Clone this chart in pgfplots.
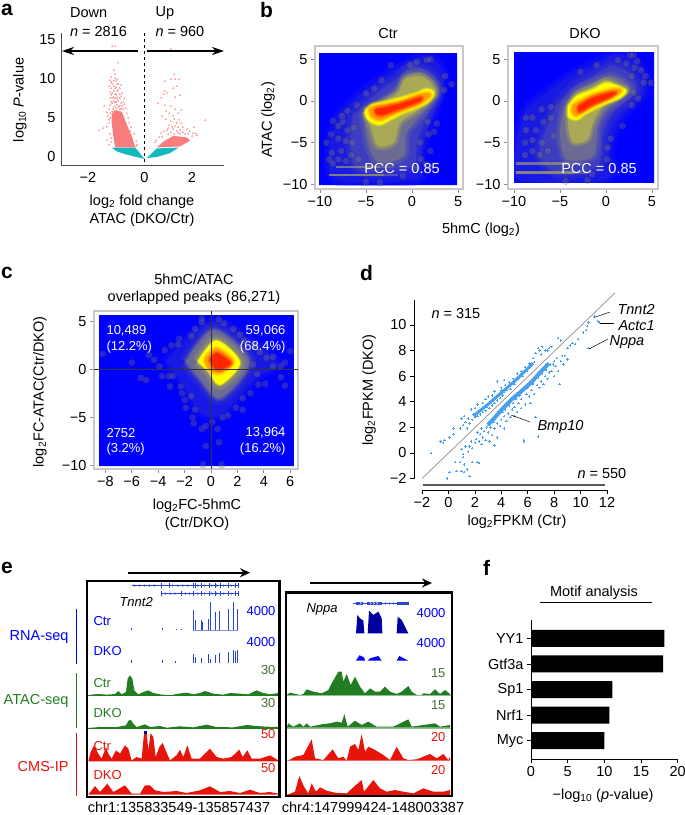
\documentclass[border=0pt]{standalone}
\usepackage{fontspec}
\setmainfont{Liberation Sans}
\usepackage{pgfplots}
\pgfplotsset{compat=1.18}
\usetikzlibrary{arrows.meta}

\definecolor{d1}{rgb}{.10,.10,.90}
\definecolor{d2}{rgb}{.24,.24,.76}
\definecolor{d3}{rgb}{.42,.42,.58}
\definecolor{d4}{rgb}{.66,.66,.34}
\definecolor{d5}{rgb}{1,1,0}
\definecolor{d6}{rgb}{1,.62,0}
\definecolor{d7}{rgb}{1,.15,0}
\definecolor{haze}{rgb}{.55,.55,.5}
\definecolor{pinkp}{RGB}{250,125,125}
\definecolor{tealp}{RGB}{20,185,190}
\definecolor{ptblue}{RGB}{70,160,240}
\definecolor{gr}{RGB}{34,125,34}
\definecolor{olv}{RGB}{70,110,50}
\definecolor{rd}{RGB}{230,20,10}
\definecolor{dkb}{RGB}{0,0,160}
\definecolor{frm}{RGB}{200,200,200}
\definecolor{gene}{RGB}{40,70,210}

\newcommand{\fa}{\fontsize{14.5}{16}\selectfont}
\newcommand{\fb}{\fontsize{13}{15}\selectfont}
\newcommand{\fc}{\fontsize{21}{22}\selectfont\bfseries}

\pgfdeclareplotmark{chev}{%
  \pgfpathmoveto{\pgfqpoint{-1pt}{1.2pt}}%
  \pgfpathlineto{\pgfqpoint{.6pt}{0pt}}%
  \pgfpathlineto{\pgfqpoint{-1pt}{-1.2pt}}%
  \pgfusepathqstroke}

\pgfplotsset{
  base/.style={scale only axis, clip=false,
    /pgf/number format/assume math mode=true,
    tick label style={font=\fa}, tick style={black, line width=.6pt},
    major tick length=4pt, tick align=outside, anchor=north west},
  dens/.style={base, axis line style={frm, line width=1.4pt},
    tick style={frm!70!black, line width=.8pt}, xtick pos=bottom, ytick pos=left},
  inner/.style={scale only axis, hide axis, clip=true, anchor=north west},
  track/.style={scale only axis, clip=true, anchor=north west, y dir=reverse,
    ticks=none, axis on top, axis line style={line width=2.4pt}},
  halo/.style={only marks, mark=*, mark size=3.6pt, mark options={draw=none, fill=haze, opacity=.27}},
}

% one density level with a soft edge, stroked wide to narrow and then filled
\newcommand{\softlevel}[3]{%
  \addplot[smooth, draw=#2, line join=round, draw opacity=.2, line width=#3*1pt] table {#1};
  \addplot[smooth, draw=#2, line join=round, draw opacity=.2, line width=#3*.75pt] table {#1};
  \addplot[smooth, draw=#2, line join=round, draw opacity=.2, line width=#3*.5pt] table {#1};
  \addplot[smooth, draw=#2, line join=round, draw opacity=.2, line width=#3*.25pt] table {#1};
  \addplot[smooth, fill=#2, draw=none] table {#1};
}

% ---- panel b, Ctr
\pgfplotstableread{
-7.8 -1.4
-4.9 1.4
-1.7 3.8
1.6 5.4
3.4 3.4
3 .6
1.6 -3.8
.9 -7
.5 -9.4
-8.2 -9.4
-8.9 -5.4
-7.8 -1.4
}\ctrA
\pgfplotstableread{
-6.4 -1.8
-4.2 .6
-1.7 2.6
.1 4.2
2.3 3
2.9 1
1.6 -1.8
.5 -5
.1 -7.8
-4.2 -8.6
-6.2 -7.8
-6.7 -4.6
-6.4 -1.8
}\ctrB
\pgfplotstableread{
-5.3 -1.4
-1.7 1.2
-.6 3
.9 3.4
2.3 2.4
2.7 1
1.2 -1.4
-.6 -3.8
-.9 -6.6
-3.5 -7.4
-4.7 -5.4
-5.3 -1.4
}\ctrC
\pgfplotstableread{
-5.1 -1.2
-1.7 .8
-.8 2.6
.9 3
2 2.2
2.5 .8
.5 -1.2
-1.3 -2.6
-2 -5
-3.7 -5.4
-4.4 -3.4
-5.1 -1.2
}\ctrD
\pgfplotstableread{
-5.1 -1.24
-4.38 -.44
-2.75 -.04
-1.3 .36
.5 .96
1.6 1.44
2.3 1.16
2.3 .56
1.6 -.24
.5 -.84
-.94 -1.44
-2.4 -2.24
-3.5 -2.84
-4.56 -2.44
-5 -1.84
-5.1 -1.24
}\ctrE
\pgfplotstableread{
-4.7 -1
-4 -.6
-1.3 -.04
.7 .76
1.8 .96
2 .56
.7 -.44
-1.7 -1.44
-3.5 -2.3
-4.4 -1.84
-4.7 -1
}\ctrF
\pgfplotstableread{
-4 -1
-1.5 -.4
.5 .3
1.1 .4
.7 -.1
-1.5 -1
-3.3 -1.7
-3.9 -1.5
-4 -1
}\ctrG

% ---- panel b, DKO
\pgfplotstableread{
-8.7 -1
-5 2.2
-2.1 4
1.1 5.6
3.7 4.2
4.2 1
1.5 -2.2
.4 -5.8
0 -9.4
-9.4 -9.4
-9.7 -5
-8.7 -1
}\dkoA
\pgfplotstableread{
-5.4 -.6
-3.6 1.6
-1.4 3
.8 4.2
2.6 3.2
3.3 1.2
.8 -1.4
-.3 -3.8
-.9 -7.8
-5 -8.8
-7.2 -6.6
-6.5 -3.4
-5.4 -.6
}\dkoB
\pgfplotstableread{
-4.5 -.6
-3.2 1.2
-1.4 2.2
.4 3
1.8 2.4
2.6 1.2
0 -1.2
-.9 -3.2
-1.4 -6.6
-4.3 -7
-5 -3.8
-4.5 -.6
}\dkoC
\pgfplotstableread{
-4.1 -.6
-3.2 .8
-1.4 1.7
0 2.5
1.5 1.8
2.2 1.2
-.3 -.6
-1.4 -2.6
-2 -4.6
-3.6 -5
-4.1 -3
-4.1 -.6
}\dkoD
\pgfplotstableread{
-4.1 -.64
-3.2 .56
-1.4 1.36
0 2.16
1.5 1.7
2.2 1.16
1.5 .36
-.3 -.44
-2.1 -1.44
-3.2 -2.24
-4.1 -1.84
-4.1 -.64
}\dkoE
\pgfplotstableread{
-3.6 -.44
-1.4 .76
.8 1.44
1.7 1.3
.9 .56
-1.4 -.64
-3.2 -1.76
-3.7 -1.24
-3.6 -.44
}\dkoF
\pgfplotstableread{
-3 -.6
-1.4 .4
.5 1
1.1 1
.3 .4
-1.4 -.4
-2.9 -1.3
-3 -.6
}\dkoG

% ---- panel c
\pgfplotstableread{
-3.4 .8
.2 5
5 .8
3.4 -.9
.7 -4.8
-.9 -4.4
-1.9 -2
-3.4 .8
}\dcB
\pgfplotstableread{
-1.9 .8
.2 4.1
2.9 .8
.7 -3
-.9 -.9
-1.9 .8
}\dcD
\pgfplotstableread{
-1 .8
.4 3
2.2 .7
.7 -1.6
-.2 -.2
-1 .8
}\dcE
\pgfplotstableread{
-.5 1
.4 2.2
1.7 .8
.7 -.4
-.1 -.1
-.5 1
}\dcF
\pgfplotstableread{
-.1 1
.4 1.7
1.2 1.1
1.5 .6
.8 0
.3 .1
-.1 1
}\dcG

\begin{document}
\begin{tikzpicture}[x=1pt,y=1pt]

% ---------------- a
\begin{axis}[base, at={(61pt,-33pt)}, width=163, height=132,
  xmin=-3.516, xmax=3.347, ymin=-1.03, ymax=15.9,
  axis x line*=bottom, axis y line*=left, axis line style={-, black!70, line width=.8pt},
  tick style={draw=none}, major tick length=1pt,
  xtick={-2.38,0,2}, xticklabels={−2,0,2}, ytick={0,5,10,15},
  xticklabel style={yshift=-3pt}, yticklabel style={xshift=-1pt}]
\addplot[fill=tealp, draw=none] coordinates {(-1.38,1.2) (-.39,1.2) (-.18,.43) (0,-.25) (-.46,.08) (-.88,.42) (-1.17,.72) (-1.38,1.2)};
\addplot[fill=tealp, draw=none] coordinates {(.1,-.13) (.52,1.1) (1.43,1.2) (1.08,.5) (.52,0) (.1,-.13)};
\addplot[fill=pinkp, draw=none] coordinates {(-1.24,1.23) (-.39,1.23) (-.53,2.63) (-.74,4.11) (-.95,5.8) (-1.24,6) (-1.38,5.6) (-1.38,4.32) (-1.31,2.63) (-1.24,1.23)};
\addplot[fill=pinkp, draw=none] coordinates {(.52,1.23) (.8,2) (1.22,2.7) (1.78,2.5) (1.92,2.1) (1.5,1.35) (.52,1.23)};
\addplot[only marks, mark=+, mark size=1pt, pinkp, mark options={line width=.45pt, opacity=.65}] coordinates {
(-1.35,14.2) (-1.25,14.2) (-1.1,12.1) (-1.3,11.1) (-1.25,10.6) (-1.4,10.2) (-1.45,9.9) (-1.3,9.8) (-1.15,10) (-1.1,9.4)
(-1.35,9.4) (-1.5,9.1) (-1.2,9) (-1,9.2) (-1.4,8.8) (-1.3,8.5) (-1.1,8.6) (-1.45,8.3) (-1.2,8) (-.95,8.2)
(-1.4,8) (-1.3,7.7) (-1,7.8) (-1.45,7.5) (-1.15,7.4) (-.85,7.5) (-1.4,7.1) (-1.25,7) (-1,6.9) (-.9,7)
(-1.45,6.7) (-.8,6.3) (-.85,6.8) (-1.7,6.5) (-1.5,6.1) (-1.6,5.8) (-1.55,5.3) (-1.45,5.6) (-.75,5.6) (-.7,5)
(-1.75,3.7) (-1.9,3.4) (-1.6,3.9) (-1.5,4.3) (-.65,4.4) (-.55,3.8) (-.45,3) (-.6,3.3) (-1.45,3) (-1.6,2.2) (-1.4,2.4) (-.35,2.1)
(-1.5,1.6) (-1.42,1.9) (-1.5,4.8) (-1.45,5) (-.3,1.6) (-.35,1.4)
(-1.33,6.2) (-1.28,6.5) (-1.22,6.3) (-1.17,6.7) (-1.1,6.4) (-1.05,6.6) (-1,6.2) (-.95,6.5) (-.9,6.2) (-1.35,6.9) (-1.3,7.2) (-1.2,7.1) (-1.1,7.2) (-1.05,7.5) (-1.25,7.5)
(-1.35,7.6) (-1.15,7.7) (-1.25,8.1) (-1.05,8.1) (-1.35,8.2) (-1.15,8.4) (-1.25,8.8) (-1.05,8.8) (-1.3,9.1) (-1.15,9.3) (-1.4,9.6) (-1.2,9.7) (-1.25,10.1) (-1.05,6.1) (-1.2,5.9) (-1.35,5.9)
(1.1,13.8) (1.25,10.6) (1.45,10) (1.3,10) (1.1,10) (.85,9.7) (1.35,9.1) (1.2,8.8) (1.5,7.9) (1.3,7.7)
(.85,8.4) (.8,8.1) (.95,8.2) (.7,7.6) (.55,6.9) (.85,6.7) (1.1,6.5) (1.3,6.1) (.9,5.9) (1.55,6) (1.4,5.6)
(1.2,5.3) (1.05,5.6) (.75,5.2) (.9,4.9) (1.25,4.9) (1.45,4.8) (1.1,4.6) (1.35,4.4) (1.55,4.3) (2.55,4.7) (2.1,3.8)
(1.6,3.8) (1.8,3.6) (1.2,3.6) (1.35,3.3) (1.9,3.3) (1,3.7) (.8,3.3) (2.15,3) (2.05,3.1) (2.2,2.85) (1.85,3) (1.6,3.2)
(.7,3.1) (.6,2.5) (.5,2.2) (.45,1.9) (2,2.7) (.75,2.6) (1,2.9) (1.4,3.05)
(1.1,3.2) (1.25,3) (1.5,3) (1.7,2.9) (1.05,4.1) (1.3,4) (1.5,3.5) (1.15,3.9) (.95,3.4) (1.4,3.8)
};
\end{axis}
\draw[black, dashed, line width=.8pt] (144.5,-33) -- (144.5,-165);
\draw[-{Stealth[length=12pt,width=8pt]}, line width=1.4pt] (138,-51) -- (62,-51);
\draw[-{Stealth[length=12pt,width=8pt]}, line width=1.4pt] (147,-51) -- (224,-51);
\node[anchor=west, font=\fa] at (66.5,-13) {Down};
\node[anchor=west, font=\fa] at (66.5,-32) {\textit{n} = 2816};
\node[anchor=west, font=\fa] at (152,-13) {Up};
\node[anchor=west, font=\fa] at (152,-32) {\textit{n} = 960};
\node[rotate=90, font=\fa] at (20,-100) {log\textsubscript{10} \textit{P}-value};
\node[font=\fa] at (142,-202) {log\textsubscript{2} fold change};
\node[font=\fa] at (142,-220) {ATAC (DKO/Ctr)};

% ---------------- b Ctr
\begin{axis}[dens, at={(315pt,-46pt)}, width=148, height=143,
  xmin=-10.54, xmax=5.54, ymin=-10.56, ymax=6.6,
  xtick={-10,-5,0,5}, xticklabels={−10,−5,0,5},
  ytick={-10,-5,0,5}, yticklabels={−10,−5,0,5}]
\end{axis}
\begin{axis}[inner, at={(319pt,-53pt)}, width=138, height=132,
  xmin=-10.1, xmax=4.89, ymin=-10.08, ymax=5.76]
\addplot[fill=blue, draw=none] coordinates {(-10.1,-10.08) (4.89,-10.08) (4.89,5.76) (-10.1,5.76) (-10.1,-10.08)};
\softlevel{\ctrA}{d1}{12}
\addplot[halo] coordinates {
(1.6,4.9) (2,5) (-2.3,4.3) (-.2,4.3) (3.6,3) (4.3,2) (-5,.9) (-4.1,1.5) (-3.3,2.5) (.5,4.7) (3.5,1.3) (-6,-.5)
(-7,-1.2) (-7.5,-2.5) (-8.6,-2.4) (-8.8,-4) (-9.3,-5) (-8,-3) (-7,-3.5) (-6.5,-5) (-7.7,-6) (-8.7,-6.2) (-8,-7) (-9,-7)
(2,-6) (1,-7) (.9,-5) (1.8,-4) (2.7,-2.7) (1.7,-2.5) (2.4,-3.7) (-5,-9.7) (-3.5,-9.8) (-1,-9) (.5,-8)
(-8,-4.5) (-7.2,-4.8) (-6.3,-3.2) (-7.6,-1.8) (-6.6,-6.5) (-5.8,-7) (-7.2,-7.2) (-8.6,-7.5) (1.5,-7.6) (2,-8)};
\softlevel{\ctrB}{d2}{12}
\addplot[line width=2.5pt, haze, opacity=.4] coordinates {(-8.3,-7.9) (-2,-7.9)};
\addplot[line width=2.5pt, haze, opacity=.45] coordinates {(-9,-8.9) (-1.5,-8.9)};
\softlevel{\ctrC}{d3}{10}
\softlevel{\ctrD}{d4}{8}
\softlevel{\ctrE}{d5}{4}
\softlevel{\ctrF}{d6}{5}
\softlevel{\ctrG}{d7}{5}
\addplot[line width=2.5pt, d4, opacity=.45] coordinates {(-8.3,-7.9) (-3.5,-7.9)};
\addplot[line width=2.5pt, d4, opacity=.55] coordinates {(-9,-8.9) (-3,-8.9)};
\end{axis}
\node[white, font=\fa] at (402,-169) {PCC = 0.85};
\node[font=\fa] at (388,-34) {Ctr};

% ---------------- b DKO
\begin{axis}[dens, at={(508pt,-46pt)}, width=150, height=143,
  xmin=-10.65, xmax=5.65, ymin=-10.56, ymax=6.6,
  xtick={-10,-5,0,5}, xticklabels={−10,−5,0,5},
  ytick={-10,-5,0,5}, yticklabels={−10,−5,0,5}]
\end{axis}
\begin{axis}[inner, at={(514pt,-52pt)}, width=140, height=131,
  xmin=-10, xmax=5.22, ymin=-9.84, ymax=5.88]
\addplot[fill=blue, draw=none] coordinates {(-10,-9.84) (5.22,-9.84) (5.22,5.88) (-10,5.88) (-10,-9.84)};
\softlevel{\dkoA}{d1}{12}
\addplot[halo] coordinates {
(1.3,4.9) (2.6,5.5) (-1,4.3) (-2.8,3.5) (3.1,4) (3.8,3.7) (4.1,2.2) (4.9,2.2) (2.8,3) (3,1) (3.5,.3) (2.8,-.5)
(-6,-.7) (-7,-1) (-8.7,-2) (-8,-2) (-8.7,-3.5) (-7.6,-3.5) (-6.8,-2.5) (-8,-4.7) (-8.8,-5) (-7,-5) (-8,-6) (-8.8,-6.5)
(.2,-5.6) (.5,-4.5) (1.8,-3) (-2,-9.5) (-4.4,-9.6) (-1.5,-8.8) (.1,-7) (-6.3,-6) (-7.2,-6.5) (-5.7,-4.2) (-6,-2)
(4.3,3) (3.4,4.8) (3,5.5) (2.2,4.5)};
\softlevel{\dkoB}{d2}{12}
\addplot[line width=2.5pt, haze, opacity=.4] coordinates {(-9.8,-7.5) (-2.5,-7.5)};
\addplot[line width=2.5pt, haze, opacity=.45] coordinates {(-9.8,-8.6) (-2,-8.6)};
\softlevel{\dkoC}{d3}{9}
\softlevel{\dkoD}{d4}{7}
\softlevel{\dkoE}{d5}{4}
\softlevel{\dkoF}{d6}{5}
\softlevel{\dkoG}{d7}{5}
\addplot[line width=2.5pt, d4, opacity=.45] coordinates {(-9.8,-7.5) (-4,-7.5)};
\addplot[line width=2.5pt, d4, opacity=.6] coordinates {(-9.8,-8.6) (-3.5,-8.6)};
\end{axis}
\node[white, font=\fa] at (599,-169) {PCC = 0.85};
\node[font=\fa] at (585,-34) {DKO};
\node[rotate=90, font=\fa] at (268,-120) {ATAC (log\textsubscript{2})};
\node[font=\fa] at (481,-230) {5hmC (log\textsubscript{2})};

% ---------------- c
\begin{axis}[dens, at={(94pt,-311pt)}, width=204, height=158,
  xmin=-8.86, xmax=6.59, ymin=-10.39, ymax=6.07,
  xtick={-8,-6,...,6}, xticklabels={−8,−6,−4,−2,0,2,4,6},
  ytick={-10,-5,0,5}, yticklabels={−10,−5,0,5}]
\end{axis}
\begin{axis}[inner, at={(99pt,-315pt)}, width=195, height=151,
  xmin=-8.48, xmax=6.29, ymin=-10.07, ymax=5.66]
\addplot[fill=blue, draw=none] coordinates {(-8.48,-10.07) (6.29,-10.07) (6.29,5.66) (-8.48,5.66) (-8.48,-10.07)};
\addplot[halo] coordinates {
(-8.2,1.6) (-6,.7) (-5.3,-.9) (-4.9,-1.1) (-4.7,1.5) (-4.3,1) (-3.9,.3) (-3.7,-.7) (-3.2,-.7) (-2.9,-.7) (-3.1,-1.8) (-2.3,-1.8)
(-3.5,2) (-3,2.5) (-2.5,2.6) (-2.4,3.2) (-1.5,3.5) (-1.2,4.2) (-.7,4.9) (-2.2,-2.5) (-2,-3.2) (-1.5,-2.8) (-1.9,-4) (-1.2,-4.2)
(-1.4,-5) (-1.3,-5.6) (-.7,-6.2) (-.4,-5.9) (.5,-6.2) (.6,-7.6) (-.4,-8) (-.6,-9.9) (.8,-9.9) (.1,-5.5) (.9,-5) (1.3,-4.8)
(1.9,-4) (2.4,-3) (2.4,-4.2) (3,-2.5) (3.6,-1.6) (4.1,-1.5) (5.6,-1.7) (5.3,-.8) (4.7,.3) (5.3,.3) (5.6,.7) (6,1.9)
(4.7,1.3) (4.2,1.2) (3.7,1.8) (3.3,2.5) (2.5,3) (2.2,3.6) (1.7,4.2) (1,4.8) (.6,5.2) (-.7,5.3) (3.2,.5) (3.5,-.5)};
\softlevel{\dcB}{d1}{10}
\softlevel{\dcD}{d2}{14}
\softlevel{\dcD}{d3}{6}
\softlevel{\dcE}{d4}{12}
\softlevel{\dcE}{d5}{3}
\softlevel{\dcF}{d6}{5}
\softlevel{\dcG}{d7}{5}
\end{axis}
\draw[black!80, line width=.6pt] (211,-311) -- (211,-469);
\draw[black!80, line width=.6pt] (94,-369.3) -- (298,-369.3);
\node[white, anchor=west, font=\fb] at (103,-331) {10,489};
\node[white, anchor=west, font=\fb] at (103,-347) {(12.2\%)};
\node[white, anchor=east, font=\fb] at (289,-331) {59,066};
\node[white, anchor=east, font=\fb] at (289,-347) {(68.4\%)};
\node[white, anchor=west, font=\fb] at (103,-433) {2752};
\node[white, anchor=west, font=\fb] at (103,-449) {(3.2\%)};
\node[white, anchor=east, font=\fb] at (289,-433) {13,964};
\node[white, anchor=east, font=\fb] at (289,-449) {(16.2\%)};
\node[font=\fa] at (194,-279) {5hmC/ATAC};
\node[font=\fa] at (194,-298) {overlapped peaks (86,271)};
\node[rotate=90, font=\fa] at (40,-392) {log\textsubscript{2}FC-ATAC(Ctr/DKO)};
\node[font=\fa] at (197,-506) {log\textsubscript{2}FC-5hmC};
\node[font=\fa] at (197,-524) {(Ctr/DKO)};

% ---------------- d
\begin{axis}[base, at={(414pt,-300pt)}, width=193, height=190,
  xmin=-2.6, xmax=12, ymin=-2.89, ymax=11.95,
  axis x line*=bottom, axis y line*=left,
  axis line style={draw=none},
  xtick={-2,0,...,12}, xticklabels={−2,0,2,4,6,8,10,12},
  ytick={-2,0,...,12}, yticklabels={−2,0,2,4,6,8,10,12}]
\addplot[black!45, line width=.7pt] coordinates {(-2,-2) (12.6,12.5)};
\addplot[ptblue, line width=3pt] coordinates {(1.9,2.9) (3,3.8) (4,4.7) (5,5.6) (6,6.6) (6.4,7)};
\addplot[ptblue, line width=4pt] coordinates {(3,2.2) (3.5,2.75) (4,3.35) (4.8,4.2) (5.5,4.8) (6.3,5.55) (7,6.35) (7.6,7)};
\addplot[only marks, mark=+, mark size=1.2pt, ptblue, mark options={line width=.55pt}] coordinates {
(-1.3,0) (-.6,.9) (-.4,.8) (-.3,1) (.1,1.2) (.4,1.9) (.4,1.5)
(.9,1.9) (1,2.7) (1.1,2.2) (1.2,2.9) (1.3,2.4) (1.4,1.9) (1.5,2.7) (1.6,2.3) (1.7,3.4) (1.8,2.6) (1.9,3) (2,2.8) (2,3.5) (2.1,3.1) (2.2,2.9)
(2.2,3.8) (2.3,3.2) (2.4,3) (2.5,3.4) (2.6,3.9) (2.6,3.2) (2.7,3.5) (2.8,4.2) (2.8,3.3) (2.9,3.6) (3,3.8) (3,4.4) (3.1,3.5) (3.2,4) (3.3,3.7)
(3.3,4.5) (3.4,4.2) (3.5,3.9) (3.5,4.8) (3.6,4.3) (3.7,4.1) (3.7,5.6) (3.8,4.6) (3.9,4.3) (4,4.9) (4,5.1) (4.1,4.5) (4.2,4.8) (4.2,5.7) (4.3,5.3)
(4.4,4.9) (4.5,5.2) (4.6,5.5) (4.7,5) (4.8,5.4) (4.9,5.8) (5,5.4) (5.1,5.7) (5.2,6.2) (5.3,5.8) (5.4,6) (5.5,6.4) (5.6,6) (5.7,6.3) (5.8,6.7)
(5.9,6.4) (6,6.6) (6.1,7) (6.2,6.8) (6.3,7) (6.4,7.4) (6.5,7.1) (6.6,7.8) (6.8,8.2) (6.9,8) (7,7.7) (7.1,8.3) (7.3,8) (7.5,8) (7.6,8.2) (7.8,8.3) (8.3,9) (8.5,8.8)
(.5,-.7) (.6,-1.4) (.9,-.7) (1,-1.4) (1,.3) (1.1,-.3) (1.2,-1.5) (.1,-1.5) (-.1,-2) (1.2,-.9) (1.4,-1.3) (1.6,-1.8) (1.1,-.1) (1.3,.5) (1.5,.1)
(1.6,.5) (1.7,.9) (1.8,-.7) (1.8,.4) (2.2,-.7) (2.3,-.8) (2,.8) (2.1,1.1) (2.2,1.6) (2.3,.9) (2.4,1.5) (2.5,.7) (2.5,1.9) (2.6,1.2) (2.7,1.7)
(2.8,1) (2.9,2) (3,1.6) (3,2.2) (3.1,.9) (3.2,2) (3.3,1.4) (3.4,2.4) (3.5,.6) (3.5,1.9) (3.6,2.8) (3.7,1.2) (3.7,2.3) (3.8,3) (3.9,2.1)
(4,2.6) (4.1,3.2) (4.2,1.9) (4.2,2.9) (4.3,3.4) (4.4,2.5) (4.5,3.1) (4.6,3.7) (4.7,2.8) (4.8,3.4) (4.9,3.9) (5,2.9) (5,3.6) (5.1,4.2) (5.2,3.2)
(5.3,3.9) (5.4,4.5) (5.5,3.5) (5.5,4.2) (5.6,4.8) (5.7,1) (5.7,.9) (5.8,3.8) (5.9,4.6) (6,5.1) (6.1,4.4) (6.2,3.9) (6.3,4.9) (6.4,5.4) (6.5,4.6)
(6.6,2.8) (6.7,5.3) (6.8,1.3) (6.8,5.9) (6.9,5.1) (7,5.6) (7.1,6.2) (7.2,5.4) (7.3,6) (7.4,6.5) (7.5,5.8) (7.6,6.3) (7.7,6.9) (7.8,6.4) (7.9,6.9)
(8,7.2) (8,6) (8.1,6.8) (8.2,7.4) (8.3,6.4) (8.4,5.4) (8.5,7.2) (8.6,7.6) (8.7,6.9) (8.8,7.6) (9,8.2) (9,7.3) (9.2,8.4) (9.4,8.6) (9.6,8.5) (9.8,8.9)
(10.2,9.4) (10.4,9.6) (10.5,9.9) (10.6,10.2) (11.3,10.3) (11.4,10.2) (11,10.7) (10.6,8.2)
};
\end{axis}
\draw[black, line width=.7pt] (414,-300) -- (414,-479);
\draw[black, line width=.7pt] (421.7,-490) -- (607,-490);
\draw[black!65, line width=2.4pt] (422.7,-485) -- (605,-485);
\draw[black, line width=.5pt] (594,-317.5) -- (610,-312);
\draw[black, line width=.5pt] (600,-323.5) -- (614,-323.5);
\draw[black, line width=.5pt] (589,-349) -- (608,-339);
\draw[black, line width=.5pt] (511,-415) -- (530,-422);
\node[anchor=west, font=\fa] at (428,-314) {\textit{n} = 315};
\node[anchor=west, font=\fa] at (574,-474) {\textit{n} = 550};
\node[anchor=west, font=\fa\itshape] at (614,-310) {Tnnt2};
\node[anchor=west, font=\fa\itshape] at (615,-326) {Actc1};
\node[anchor=west, font=\fa\itshape] at (606,-342) {Nppa};
\node[anchor=west, font=\fa\itshape] at (534,-427) {Bmp10};
\node[rotate=90, font=\fa] at (369,-390) {log\textsubscript{2}FPKM (DKO)};
\node[font=\fa] at (517,-522) {log\textsubscript{2}FPKM (Ctr)};

% ---------------- e left
\begin{axis}[track, at={(87pt,-581pt)}, width=192.3, height=216,
  xmin=261, xmax=838, ymin=92, ymax=740]
\addplot[gr, fill=gr, draw=none] coordinates {(265,435) (280,432) (300,431) (320,433) (345,431) (355,422) (365,432) (378,425) (383,385) (390,375) (397,385) (403,420) (415,432) (430,425) (445,420) (460,428) (480,432) (510,435) (535,430) (560,427) (580,432) (600,428) (615,422) (640,430) (670,433) (690,428) (720,430) (745,432) (770,420) (790,428) (810,432) (835,428) (835,435)};
\addplot[gr, fill=gr, draw=none] coordinates {(265,533) (300,530) (350,530) (378,525) (385,512) (392,508) (400,520) (410,530) (435,522) (450,530) (480,527) (500,532) (540,528) (580,531) (620,523) (650,530) (700,531) (740,524) (770,527) (800,529) (835,530) (835,533)};
\addplot[rd, fill=rd, draw=none] coordinates {(265,633) (272,605) (282,585) (295,610) (305,625) (318,590) (325,610) (335,625) (348,600) (360,610) (375,585) (385,595) (395,630) (410,620) (425,625) (432,550) (440,545) (445,600) (452,548) (460,560) (467,620) (478,590) (488,578) (497,600) (510,630) (530,615) (540,598) (550,620) (562,585) (575,625) (600,625) (630,595) (650,620) (670,625) (695,620) (718,598) (728,620) (742,600) (755,625) (780,625) (810,615) (835,630) (835,633)};
\addplot[rd, fill=rd, draw=none] coordinates {(265,733) (285,707) (300,725) (322,700) (340,725) (375,705) (395,730) (420,730) (435,705) (450,705) (465,720) (490,725) (530,722) (560,728) (600,720) (630,708) (660,725) (690,722) (720,728) (750,718) (780,728) (810,725) (835,730) (835,733)};
\addplot[gr, line width=.8pt] coordinates {(261,436) (838,436)};
\addplot[gr, line width=.8pt] coordinates {(261,534) (838,534)};
\addplot[gene, line width=.8pt, unbounded coords=jump] coordinates {
(395,238) (395,232) (395,nan) (486,238) (486,232) (486,nan) (530,238) (530,236) (530,nan) (545,238) (545,235) (545,nan)
(580,238) (580,180) (580,nan) (585,238) (585,210) (585,nan) (605,238) (605,210) (605,nan) (608,238) (608,215) (608,nan)
(625,238) (625,205) (625,nan) (630,238) (630,155) (630,nan) (645,238) (645,185) (645,nan) (658,238) (658,182) (658,nan)
(685,238) (685,175) (685,nan) (700,238) (700,155) (700,nan) (712,238) (712,175) (712,nan)};
\addplot[gene!60, line width=.3pt] coordinates {(580,238) (715,238)};
\addplot[gene, line width=.8pt, unbounded coords=jump] coordinates {
(395,338) (395,330) (395,nan) (486,338) (486,328) (486,nan) (525,338) (525,332) (525,nan)
(580,338) (580,310) (580,nan) (585,338) (585,320) (585,nan) (605,338) (605,322) (605,nan)
(625,338) (625,310) (625,nan) (630,338) (630,325) (630,nan) (645,338) (645,315) (645,nan) (658,338) (658,308) (658,nan)
(685,338) (685,305) (685,nan) (700,338) (700,298) (700,nan) (706,338) (706,302) (706,nan) (712,338) (712,298) (712,nan)};
\addplot[gene, line width=.4pt] coordinates {(395,106) (718,106)};
\addplot[gene, line width=.4pt] coordinates {(485,130) (718,130)};
\addplot[gene, only marks, mark=chev, mark options={line width=.3pt}] coordinates {
(405,106) (420,106) (435,106) (450,106) (465,106) (520,106) (535,106) (550,106) (565,106) (595,106) (615,106) (637,106) (652,106) (672,106) (695,106)
(498,130) (512,130) (527,130) (558,130) (570,130) (595,130) (615,130) (637,130) (652,130) (672,130) (695,130)};
\addplot[gene, line width=.9pt, unbounded coords=jump] coordinates {
(485,98) (485,114) (485,nan) (507,98) (507,114) (507,nan) (580,98) (580,114) (580,nan) (585,98) (585,114) (585,nan) (605,98) (605,114) (605,nan)
(628,98) (628,114) (628,nan) (645,98) (645,114) (645,nan) (660,98) (660,114) (660,nan) (685,98) (685,114) (685,nan) (705,98) (705,114) (705,nan) (715,98) (715,114) (715,nan)
(485,122) (485,138) (485,nan) (545,122) (545,138) (545,nan) (580,122) (580,138) (580,nan) (605,122) (605,138) (605,nan)
(628,122) (628,138) (628,nan) (645,122) (645,138) (645,nan) (660,122) (660,138) (660,nan) (685,122) (685,138) (685,nan) (705,122) (705,138) (705,nan) (715,122) (715,138) (715,nan)};
\addplot[dkb, only marks, mark=square*, mark size=1pt] coordinates {(437,545)};
\end{axis}
% ---------------- e right
\begin{axis}[track, at={(286pt,-592.3pt)}, width=165.7, height=203.7,
  xmin=18, xmax=515, ymin=127, ymax=738]
\addplot[gr, fill=gr, draw=none] coordinates {(20,435) (30,428) (60,435) (70,432) (80,418) (100,425) (125,430) (145,420) (155,400) (175,365) (185,365) (190,395) (200,372) (212,405) (225,380) (240,410) (255,430) (270,415) (285,425) (300,425) (315,410) (330,425) (350,432) (365,425) (385,408) (395,425) (410,435) (425,435) (430,430) (450,432) (465,418) (480,432) (495,420) (510,432) (510,435)};
\addplot[gr, fill=gr, draw=none] coordinates {(20,533) (25,520) (40,530) (60,520) (70,530) (80,520) (90,530) (130,522) (150,520) (170,515) (185,518) (193,492) (203,530) (225,512) (245,525) (265,515) (290,530) (340,530) (385,508) (395,530) (430,525) (465,520) (480,530) (510,525) (510,533)};
\addplot[rd, fill=rd, draw=none] coordinates {(20,632) (32,628) (45,620) (70,615) (95,568) (105,625) (130,630) (158,598) (175,625) (190,620) (200,632) (210,590) (225,582) (235,600) (245,552) (255,605) (265,590) (285,600) (310,615) (330,630) (350,590) (370,625) (385,630) (410,628) (425,622) (450,612) (470,625) (490,612) (505,630) (510,620) (510,632)};
\addplot[rd, fill=rd, draw=none] coordinates {(20,735) (45,725) (58,678) (72,710) (85,730) (95,700) (108,725) (120,712) (140,722) (165,728) (200,730) (220,712) (245,690) (252,725) (280,690) (300,715) (320,725) (345,720) (370,725) (400,730) (430,715) (460,725) (490,725) (510,720) (510,735)};
\addplot[gr!50, line width=.8pt] coordinates {(18,436) (515,436)};
\addplot[gr!50, line width=.8pt] coordinates {(18,534) (515,534)};
\addplot[fill=dkb, draw=none] coordinates {(228,250) (232,195) (240,205) (250,212) (253,250) (228,250)};
\addplot[fill=dkb, draw=none] coordinates {(263,250) (267,182) (280,195) (295,185) (305,205) (307,250) (263,250)};
\addplot[fill=dkb, draw=none] coordinates {(350,250) (353,200) (365,210) (385,250) (350,250)};
\addplot[fill=blue, draw=none] coordinates {(228,332) (238,316) (252,322) (255,332) (228,332)};
\addplot[fill=blue, draw=none] coordinates {(263,332) (270,325) (295,318) (305,332) (263,332)};
\addplot[fill=blue, draw=none] coordinates {(350,332) (358,318) (385,332) (350,332)};
\addplot[gene, line width=.5pt] coordinates {(218,160) (388,160)};
\addplot[gene, line width=3pt] coordinates {(228,160) (250,160)};
\addplot[gene, line width=3pt] coordinates {(262,160) (305,160)};
\addplot[gene, line width=3pt] coordinates {(350,160) (388,160)};
\addplot[gene, only marks, mark=chev, mark options={line width=.3pt}] coordinates {(318,160) (330,160) (342,160)};
\addplot[white, only marks, mark=chev, mark options={line width=.4pt}] coordinates {(242,160) (272,160) (282,160) (292,160)};
\end{axis}
\draw[blue, line width=1pt] (76.3,-609) -- (76.3,-664);
\draw[gr, line width=1pt] (76.3,-673) -- (76.3,-728);
\draw[rd, line width=1pt] (76.3,-733) -- (76.3,-796);
\node[anchor=east, blue, font=\fa] at (72,-637) {RNA-seq};
\node[anchor=east, gr, font=\fa] at (72,-701) {ATAC-seq};
\node[anchor=east, rd, font=\fa] at (72,-766) {CMS-IP};
\draw[-{Stealth[length=10pt,width=9pt]}, line width=1.6pt] (128,-572.7) -- (250,-572.7);
\draw[-{Stealth[length=10pt,width=9pt]}, line width=1.6pt] (310,-583) -- (432,-583);
\node[font=\fa, inner sep=0pt] at (179,-807) {chr1:135833549-135857437};
\node[font=\fa, inner sep=0pt] at (373,-807) {chr4:147999424-148003387};
\node[anchor=west, font=\fb\itshape] at (116,-602) {Tnnt2};
\node[anchor=west, font=\fb\itshape] at (303,-609) {Nppa};
\node[anchor=west, blue, font=\fb] at (90,-621) {Ctr};
\node[anchor=west, blue, font=\fb] at (90,-651) {DKO};
\node[anchor=west, gr, font=\fb] at (90,-683) {Ctr};
\node[anchor=west, gr, font=\fb] at (90,-713) {DKO};
\node[anchor=west, rd, font=\fb] at (90,-746) {Ctr};
\node[anchor=west, rd, font=\fb] at (90,-775) {DKO};
\node[anchor=east, blue, font=\fb] at (279,-611) {4000};
\node[anchor=east, blue, font=\fb] at (279,-642) {4000};
\node[anchor=east, olv, font=\fb] at (279,-670) {30};
\node[anchor=east, olv, font=\fb] at (279,-703) {30};
\node[anchor=east, rd, font=\fb] at (279,-734) {50};
\node[anchor=east, rd, font=\fb] at (279,-768) {50};
\node[anchor=east, blue, font=\fb] at (449,-613) {4000};
\node[anchor=east, blue, font=\fb] at (449,-643) {4000};
\node[anchor=east, olv, font=\fb] at (449,-673) {15};
\node[anchor=east, olv, font=\fb] at (449,-705) {15};
\node[anchor=east, rd, font=\fb] at (449,-737) {20};
\node[anchor=east, rd, font=\fb] at (449,-770) {20};

% ---------------- f
\begin{axis}[base, at={(531pt,-620pt)}, width=146.7, height=139.3,
  xmin=0, xmax=20, ymin=-.727, ymax=4.715,
  axis x line*=bottom, axis y line*=left, axis line style={-, line width=.8pt},
  xbar, bar width=17pt,
  xtick={0,5,...,20}, ytick={0,...,4}, yticklabels={Myc,Nrf1,Sp1,Gtf3a,YY1}]
\addplot[fill=black, draw=none] coordinates {(10,0) (10.7,1) (11.1,2) (18,3) (18.2,4)};
\end{axis}
\node[font=\fa] at (594,-593) {Motif analysis};
\draw[black, line width=.7pt] (540,-602) -- (652,-602);
\node[font=\fa] at (603,-796) {−log\textsubscript{10} (\textit{p}-value)};

% ---------------- letters
\node[anchor=west, font=\fc, inner sep=0pt] at (1,-10) {a};
\node[anchor=west, font=\fc, inner sep=0pt] at (260,-10) {b};
\node[anchor=west, font=\fc, inner sep=0pt] at (1,-273) {c};
\node[anchor=west, font=\fc, inner sep=0pt] at (360,-273) {d};
\node[anchor=west, font=\fc, inner sep=0pt] at (1,-568) {e};
\node[anchor=west, font=\fc, inner sep=0pt] at (483,-568) {f};
\pgfresetboundingbox
\path[use as bounding box] (0,0) rectangle (685,-815);
\end{tikzpicture}
\end{document}
